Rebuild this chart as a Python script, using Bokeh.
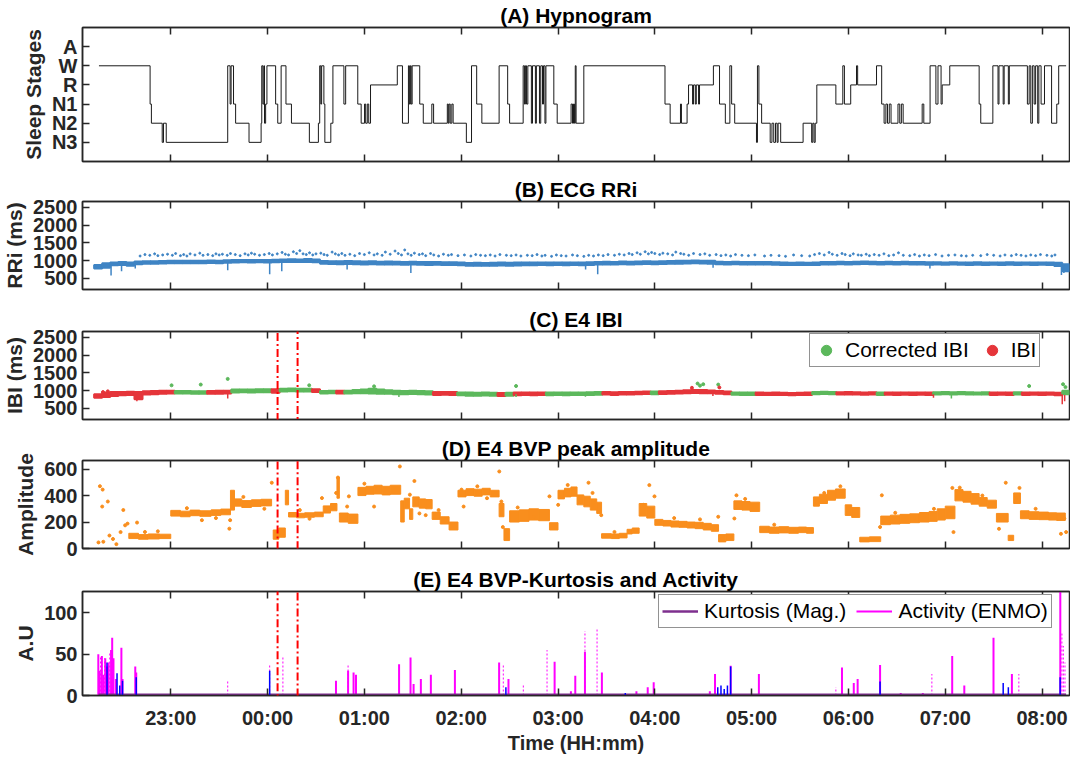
from bokeh.plotting import figure
from bokeh.layouts import column
from bokeh.models import (Range1d, FixedTicker, LinearAxis, PolyAnnotation,
                          Legend, LegendItem)
from bokeh.embed import file_html
from bokeh.resources import INLINE

FONT = "Liberation Sans"
AX = "#262626"
BLUE = "#3F84C4"
GREEN = "#5CB85C"
RED = "#E5353A"
ORANGE = "#F98E1D"
MAGENTA = "#FF00FF"
KBLUE = "#0000FF"
PURPLE = "#7E2F8E"

# ---------------- time axis (minutes after 22:00) ----------------
hour_ticks = [60, 120, 180, 240, 300, 360, 420, 480, 540, 600]
hour_labels = ["23:00", "00:00", "01:00", "02:00", "03:00",
               "04:00", "05:00", "06:00", "07:00", "08:00"]
x_start, x_end = 5.3, 617.0

# ---------------- (A) hypnogram ----------------
stage_names = ["N3", "N2", "N1", "R", "W", "A"]
hyp_t = [15.5, 47.2, 48.0, 54.7, 55.5, 57.2, 95.3, 96.8, 97.4, 98.9, 100.2, 108.5,
         116.0, 116.4, 117.1, 117.7, 118.1, 118.8, 119.6, 125.0, 126.3, 128.4, 131.4,
         134.8, 145.9, 151.5, 152.3, 153.0, 153.5, 154.9, 155.5, 159.2, 160.5, 167.3,
         168.4, 175.9, 178.0, 180.1, 180.8, 181.8, 182.7, 183.8, 200.4, 203.6, 207.3,
         207.9, 208.5, 209.0, 209.6, 214.3, 216.5, 221.8, 222.9, 231.4, 232.0, 232.5,
         233.2, 234.2, 235.0, 243.2, 246.4, 249.6, 252.8, 263.5, 268.8, 270.0, 278.4,
         279.2, 279.8, 280.5, 281.3, 283.5, 284.2, 286.0, 286.6, 288.5, 289.3, 290.4,
         291.0, 291.9, 292.5, 297.4, 299.5, 308.1, 309.0, 309.6, 310.2, 310.7, 311.2,
         316.0, 366.3, 369.5, 375.9, 376.5, 380.0, 380.9, 383.4, 384.0, 385.1, 385.7,
         387.1, 387.7, 396.3, 400.1, 403.7, 406.5, 407.6, 409.5, 423.0, 423.6, 424.5,
         426.2, 431.5, 432.6, 433.7, 434.8, 435.8, 436.4, 438.0, 451.9, 457.2, 457.9,
         458.7, 459.4, 460.4, 472.2, 476.5, 477.5, 481.4, 485.0, 485.7, 497.4, 500.6,
         502.1, 503.2, 504.2, 505.3, 506.4, 510.7, 511.8, 512.8, 513.9, 525.7, 526.7,
         530.6, 534.2, 535.5, 537.4, 538.1, 542.8, 561.0, 562.0, 569.5, 572.7, 573.3,
         575.9, 576.5, 579.1, 579.7, 590.9, 592.0, 593.0, 594.0, 595.1, 596.0, 597.3,
         598.0, 599.4, 601.5, 605.9, 609.1, 610.3, 614.9]
hyp_stage = ["W", "N1", "N2", "N3", "N2", "N3", "W", "N1", "W", "N1", "N2", "N3",
             "N2", "W", "N1", "W", "N2", "N1", "W", "N1", "N2", "W", "N1",
             "N2", "N3", "N2", "W", "N1", "W", "N1", "N3", "N2", "W", "N1",
             "W", "N1", "N2", "N1", "N2", "N1", "N2", "R", "W", "N2", "W",
             "N1", "W", "N1", "W", "N1", "N2", "N1", "N2", "N1", "N2", "N1",
             "N2", "N1", "N2", "N3", "W", "N1", "N2", "W", "N1", "N2", "W",
             "N1", "W", "N1", "W", "N2", "W", "N2", "W", "N2", "W", "N1",
             "W", "N2", "W", "N1", "N2", "N1", "N2", "N1", "N2", "W", "N2",
             "W", "N1", "N2", "N1", "N2", "N1", "R", "N1", "R", "N1", "R",
             "N1", "R", "W", "N1", "N2", "W", "N1", "N2", "N3", "W", "N1",
             "N2", "N3", "N2", "N3", "N2", "N3", "N2", "N3", "N2", "N3", "N2",
             "N3", "N2", "R", "N1", "W", "N1", "R", "W", "R", "W", "N1",
             "N2", "N1", "N2", "N1", "N2", "N1", "N2", "N1", "N2", "N1", "N2",
             "W", "N1", "W", "N1", "R", "W", "N1", "N2", "W", "N1", "W",
             "N1", "W", "N1", "W", "N1", "W", "N2", "W", "N1", "W", "N2",
             "W", "N1", "W", "N2", "N1", "W", "W"]

# ---------------- (B) ECG RRi (5-min bands, ms) ----------------
b_t = list(range(15, 616, 5))
b_lo = [780, 800, 870, 880, 860, 900, 910, 915, 920, 925, 930, 930, 925, 930, 935, 930,
        940, 950, 955, 950, 955, 950, 955, 960, 965, 960, 965, 955, 910, 905, 900, 905,
        900, 895, 900, 890, 895, 890, 885, 890, 885, 880, 885, 880, 875, 870, 860, 860,
        855, 860, 865, 860, 865, 870, 870, 875, 870, 875, 870, 875, 870, 880, 890, 895,
        890, 900, 895, 900, 905, 900, 905, 910, 915, 920, 925, 920, 915, 900, 895, 900,
        895, 890, 895, 890, 885, 880, 875, 880, 875, 880, 890, 895, 900, 895, 900, 905,
        900, 895, 900, 895, 900, 895, 890, 885, 890, 885, 890, 885, 880, 885, 880, 885,
        880, 885, 880, 885, 880, 885, 880, 850, 700]
b_hi = [880, 930, 950, 960, 950, 975, 980, 985, 990, 995, 1000, 995, 1000, 1000, 1005, 1000,
        1010, 1015, 1020, 1015, 1020, 1015, 1025, 1030, 1040, 1035, 1045, 1030, 990, 985, 980, 990,
        985, 975, 980, 970, 975, 970, 965, 970, 960, 960, 965, 955, 955, 950, 935, 940,
        935, 940, 945, 940, 945, 950, 945, 950, 945, 950, 945, 950, 945, 955, 965, 970,
        965, 975, 970, 975, 980, 975, 985, 990, 995, 1000, 1005, 1000, 995, 970, 965, 970,
        965, 960, 965, 960, 955, 945, 940, 945, 940, 945, 960, 965, 970, 965, 970, 975,
        970, 965, 970, 965, 970, 960, 960, 955, 955, 950, 955, 950, 950, 955, 950, 950,
        950, 955, 950, 950, 945, 950, 945, 940, 900]
b_spike_t = [23.0, 29.5, 38.0, 95.3, 121.3, 128.8, 169.3, 208.8, 317.1, 324.6, 396.1, 530.5, 612.0, 613.5]
b_spike_lo = [580, 700, 780, 730, 620, 700, 750, 650, 750, 620, 800, 780, 600, 650]
b_spike_hi = [900, 920, 900, 960, 970, 980, 920, 900, 900, 920, 940, 900, 900, 880]
b_out_t = [41, 44, 47, 50, 52, 55, 58, 61, 63, 66,
           68, 70, 72, 75, 78, 80, 83, 86, 88, 90,
           92, 95, 97, 100, 103, 106, 108, 110, 112, 115,
           118, 121, 123, 126, 129, 131, 133, 136, 138, 140,
           142, 144, 146, 148, 150, 153, 155, 157, 160, 162,
           164, 166, 168, 171, 174, 177, 180, 183, 186, 188,
           191, 193, 196, 199, 201, 203, 205, 207, 209, 211,
           214, 216, 218, 221, 223, 226, 229, 232, 234, 238,
           242, 246, 249, 252, 255, 258, 261, 264, 268, 271,
           274, 277, 281, 284, 287, 290, 292, 296, 299, 302,
           305, 309, 312, 316, 319, 322, 325, 328, 331, 335,
           338, 341, 344, 346, 349, 351, 354, 356, 358, 360,
           363, 365, 368, 371, 373, 376, 378, 381, 384, 388,
           391, 394, 398, 401, 404, 407, 410, 414, 418, 422,
           428, 432, 437, 441, 446, 451, 456, 459, 462, 465,
           468, 470, 473, 476, 478, 481, 483, 486, 488, 491,
           493, 496, 499, 502, 505, 508, 511, 514, 518, 521,
           524, 527, 530, 534, 538, 542, 546, 550, 553, 557,
           562, 566, 570, 574, 577, 581, 584, 587, 590, 593,
           596, 599, 603, 606, 608]
b_out_v = [1130, 1170, 1150, 1190, 1140, 1160, 1180, 1150, 1200, 1140,
           1170, 1130, 1190, 1160, 1210, 1150, 1170, 1140, 1190, 1160,
           1180, 1150, 1200, 1170, 1140, 1190, 1160, 1210, 1180, 1150,
           1170, 1200, 1160, 1190, 1230, 1180, 1160, 1250, 1200, 1280,
           1190, 1170, 1220, 1160, 1190, 1210, 1170, 1150, 1240, 1190,
           1160, 1200, 1150, 1180, 1140, 1200, 1170, 1220, 1160, 1190,
           1150, 1240, 1180, 1270, 1200, 1160, 1300, 1190, 1150, 1210,
           1170, 1190, 1140, 1200, 1160, 1130, 1180, 1150, 1170, 1140,
           1160, 1130, 1170, 1150, 1140, 1160, 1130, 1170, 1150, 1140,
           1160, 1130, 1150, 1140, 1170, 1130, 1150, 1120, 1160, 1140,
           1130, 1160, 1140, 1120, 1150, 1130, 1160, 1140, 1170, 1150,
           1180, 1160, 1200, 1170, 1220, 1180, 1250, 1190, 1230, 1200,
           1170, 1210, 1190, 1160, 1240, 1200, 1180, 1150, 1200, 1170,
           1190, 1150, 1170, 1140, 1160, 1130, 1170, 1150, 1140, 1160,
           1130, 1150, 1140, 1120, 1160, 1140, 1130, 1170, 1200, 1160,
           1230, 1180, 1150, 1200, 1170, 1140, 1190, 1160, 1150, 1180,
           1140, 1170, 1150, 1190, 1140, 1160, 1220, 1150, 1140, 1170,
           1130, 1160, 1140, 1170, 1130, 1150, 1160, 1140, 1130, 1150,
           1140, 1170, 1150, 1130, 1160, 1140, 1170, 1150, 1130, 1160,
           1140, 1170, 1150, 1130, 1160]

# ---------------- (C) E4 IBI (5-min bands, ms) ----------------
c_t = list(range(15, 616, 5))
c_lo = [800, 820, 850, 870, 880, 760, 890, 900, 910, 920, 920, 920, 915, 910, 910, 915,
        920, 950, 955, 950, 955, 955, 940, 975, 980, 975, 975, 960, 920, 930, 920, 920,
        930, 925, 920, 915, 910, 900, 900, 905, 900, 895, 880, 885, 880, 870, 860, 860,
        865, 860, 850, 860, 870, 875, 870, 880, 870, 875, 870, 880, 875, 880, 885, 890,
        880, 895, 890, 900, 905, 900, 905, 910, 920, 930, 935, 930, 925, 910, 900, 885,
        880, 880, 880, 875, 880, 875, 870, 875, 880, 900, 905, 900, 890, 895, 890, 885,
        890, 880, 885, 880, 885, 880, 885, 880, 895, 900, 895, 900, 895, 890, 895, 880,
        885, 880, 890, 880, 885, 880, 885, 870, 900]
c_hi = [900, 950, 960, 960, 970, 960, 980, 990, 995, 1000, 990, 990, 985, 985, 990, 995,
        1000, 1030, 1035, 1030, 1040, 1040, 1040, 1050, 1060, 1055, 1050, 1040, 990, 995, 1000, 1000,
        1020, 1030, 1050, 1030, 1010, 1000, 990, 995, 990, 985, 960, 965, 960, 950, 945, 940,
        945, 940, 935, 940, 945, 950, 945, 950, 945, 950, 945, 950, 945, 955, 960, 960,
        955, 965, 960, 970, 975, 975, 980, 990, 1000, 1010, 1020, 1015, 1005, 990, 975, 950,
        945, 950, 945, 940, 945, 940, 935, 940, 945, 965, 970, 965, 955, 960, 955, 950,
        955, 945, 950, 945, 950, 945, 950, 945, 955, 960, 955, 960, 955, 950, 955, 945,
        950, 945, 955, 945, 950, 945, 950, 940, 1000]
c_src = ["IBI"] * 10 + ["Corrected"] * 4 + ["IBI"] * 3 + ["Corrected"] * 5 + ["IBI"] \
    + ["Corrected"] * 4 + ["IBI"] + ["Corrected"] * 2 + ["IBI"] + ["Corrected"] * 11 \
    + ["IBI"] * 3 + ["Corrected"] * 5 + ["IBI"] + ["Corrected"] + ["IBI"] * 4 \
    + ["Corrected"] * 7 + ["IBI"] * 6 + ["Corrected"] + ["IBI"] * 9 + ["Corrected"] * 3 \
    + ["IBI"] * 7 + ["Corrected"] * 3 + ["IBI"] * 5 + ["Corrected"] + ["IBI"] * 6 \
    + ["Corrected"] * 7 + ["IBI"] * 3 + ["Corrected"] + ["IBI"] * 5 + ["Corrected"]
c_spike_t = [39.0, 95.3, 201.4, 274.0, 317.0, 396.0, 532.7, 543.8, 612.5, 614.0]
c_spike_lo = [700, 780, 820, 820, 830, 850, 800, 780, 620, 700]
c_spike_hi = [900, 920, 920, 900, 900, 950, 900, 900, 900, 880]
c_spike_src = ["IBI", "IBI", "Corrected", "Corrected", "Corrected", "IBI", "IBI", "Corrected", "IBI", "IBI"]
cg_out_t = [60.5, 78.6, 95.3, 145.8, 186.0, 274.0, 386.5, 388.0, 390.0, 399.3, 592.0, 613.0, 614.5]
cg_out_v = [1150, 1170, 1330, 1150, 1120, 1130, 1200, 1140, 1180, 1170, 1130, 1180, 1100]
cr_out_t = [18.0, 21.0, 383.0, 400.0]
cr_out_v = [960, 980, 1080, 1090]

# ---------------- (D) E4 BVP peak amplitude: band segments ----------------
nan = float("nan")
d_edges = [34, 40, 46, 53, 60, 66, 72, 78, 85, 91, 97, 99.5, 104, 110, 116, 122.5, 123.5,
           127, 131, 133, 138, 143, 149, 154.5, 159, 163, 164.5, 170, 176, 181, 186, 191,
           196, 202.5, 204.7, 208, 210, 214, 218, 222, 227, 232.5, 238, 243, 248, 253, 258,
           263.5, 266.5, 270, 276, 282, 288, 294.7, 300, 304, 308, 311.8, 316, 320, 324, 327,
           333, 338, 342.8, 346, 350.3, 355, 360, 365, 370, 375, 380, 385, 390, 395, 399.5,
           404, 409, 414, 419, 425, 431, 437, 443, 449, 454, 458.3, 462, 467, 472, 478, 482,
           487, 493, 500, 506, 512, 518, 524, 530, 535, 540, 546, 551, 556, 561, 566, 571.7,
           579, 582.4, 586.6, 592, 598, 604, 609, 614.4]
d_lo = [75, 70, 72, 75, 245, 240, 248, 243, 250, 255, 290, 320, 310, 318, 322, nan, 70,
        85, 330, 238, 232, 236, 240, 268, 285, 380, 200, 190, 400, 410, 412, 405,
        410, 200, 300, 220, 315, 305, 300, 220, 185, 140, 390, 400, 395, 405, 390,
        240, 60, 200, 205, 215, 210, 140, 375, 390, 395, 330, 315, 290, 265,
        78, 75, 80, 110, 115, 245, 230, 175, 170, 162, 160, 155, 150, 140, 130,
        50, 60, 295, 290, 280, 120, 115, 118, 115, 120, 115, 320, 340, 365, 380,
        250, 235, 50, 52, 180, 185, 190, 195, 200, 205, 215, 225, 360, 350, 335, 320,
        305, 200, 60, 340, 225, 220, 218, 215, 212]
d_hi = [115, 105, 110, 108, 288, 282, 290, 285, 292, 298, 440, 375, 362, 368, 372, nan, 140,
        155, 440, 272, 266, 270, 275, 322, 340, 540, 268, 260, 462, 470, 478, 470,
        478, 360, 380, 300, 390, 375, 370, 275, 240, 200, 440, 452, 448, 455, 440,
        340, 150, 285, 292, 300, 295, 195, 440, 455, 465, 405, 395, 375, 350,
        112, 110, 115, 145, 155, 340, 320, 220, 212, 208, 205, 200, 198, 190, 180,
        105, 110, 360, 355, 350, 168, 162, 165, 160, 162, 158, 390, 410, 440, 450,
        330, 310, 85, 88, 245, 252, 258, 262, 272, 280, 300, 320, 445, 432, 415, 385,
        365, 265, 100, 420, 285, 278, 275, 270, 268]
d_out_t = [16.1, 17.8, 21.0, 17.5, 30.6, 15.2, 18.2, 22.0, 24.2, 26.3, 28.9, 31.7, 33.2, 39.1,
           79.3, 96.3, 96.8, 122.6, 153.7, 163.6, 162.5, 170.4, 169.3, 186.0, 202.0, 208.2,
           211.0, 214.1, 218.0, 240.2, 241.5, 263.6, 264.9, 265.8, 294.7, 300.1, 318.9, 321.4,
           326.8, 356.6, 359.8, 353.0, 399.3, 410.6, 409.3, 500.7, 499.6, 544.4, 545.1, 577.5,
           583.9, 586.0, 573.3, 611.7, 614.9, 613.8, 44.0, 52.0, 70.0, 88.0, 105.0, 118.0,
           140.0, 146.0, 180.0, 192.0, 226.0, 250.0, 256.0, 275.0, 285.0, 306.0, 335.0, 372.0,
           388.0, 416.0, 434.0, 447.0, 465.0, 475.0, 509.0, 521.0, 533.0, 549.0, 563.0, 596.0,
           605.0]
d_out_v = [471, 445, 355, 317, 291, 46, 51, 98, 72, 33, 124, 175, 188, 196,
           214, 150, 214, 497, 381, 536, 420, 394, 317, 317, 620, 407,
           510, 265, 252, 445, 317, 582, 355, 162, 394, 330, 497, 420,
           252, 479, 394, 330, 240, 402, 227, 402, 162, 458, 124, 497,
           381, 458, 149, 111, 124, 227, 125, 130, 305, 230, 390, 300,
           290, 225, 490, 440, 290, 470, 380, 310, 240, 480, 125, 230,
           220, 375, 180, 140, 420, 470, 270, 230, 300, 460, 400, 300,
           245]

# ---------------- (E) kurtosis and activity ----------------
act_t = [15.1, 16.0, 17.3, 18.1, 19.4, 20.5, 21.5, 23.0, 23.7, 24.5, 26.0, 29.4, 30.1, 38.0,
         38.6, 162.4, 169.9, 173.3, 174.8, 201.5, 208.6, 210.5, 215.0, 221.2, 236.1, 263.5,
         269.3, 297.9, 308.0, 310.7, 316.7, 327.2, 348.6, 355.6, 359.3, 394.1, 397.3, 407.0,
         424.5, 476.0, 483.3, 485.7, 499.6, 512.4, 526.1, 544.3, 551.8, 569.9, 581.3, 611.3]
act_v = [50, 30, 48, 25, 45, 35, 40, 55, 70, 45, 20, 58, 20, 35,
         28, 18, 30, 28, 25, 38, 46, 14, 20, 25, 31, 40,
         20, 41, 5, 24, 53, 28, 5, 10, 16, 5, 26, 36,
         26, 34, 15, 20, 37, 3, 3, 48, 12, 70, 26, 126]
act_dot_t = [16.5, 19.0, 22.2, 95.3, 121.3, 129.5, 169.9, 266.1, 278.5, 293.2, 316.7, 324.2,
             472.2, 531.7, 585.6, 612.3, 613.2, 614.2]
act_dot_v = [48, 45, 52, 18, 38, 48, 37, 37, 14, 55, 78, 81, 10, 26, 26, 75, 60, 40]
kurt_t = [20.5, 26.7, 28.4, 30.1, 38.6, 121.3, 267.7, 341.7, 399.0, 401.0, 403.0, 405.0,
          407.0, 499.6, 575.9, 579.1, 611.2]
kurt_v = [40, 27, 12, 18, 22, 30, 10, 3, 10, 12, 8, 12, 35, 17, 15, 10, 22]
kurt_base_t = [15.2, 614.9]
kurt_base_v = [0.8, 0.8]

# region of interest (minutes) for the dashed box
roi_t = [126.2, 138.6]


def style_axis(ax, size="20px"):
    ax.axis_line_color = AX
    ax.axis_line_width = 1.5
    ax.major_tick_in = 7
    ax.major_tick_out = 0
    ax.minor_tick_in = 0
    ax.minor_tick_out = 0
    ax.major_tick_line_color = AX
    ax.major_tick_line_width = 1.5
    ax.major_label_text_font = FONT
    ax.major_label_text_font_style = "bold"
    ax.major_label_text_font_size = size
    ax.major_label_text_color = AX
    ax.axis_label_text_font = FONT
    ax.axis_label_text_font_style = "bold"
    ax.axis_label_text_font_size = "21px"
    ax.axis_label_text_color = AX
    ax.axis_label_standoff = 4


def panel(title, frame_h, top, bottom, y0, y1, yticks, ylabel, ylabels=None, xlabels=False):
    p = figure(frame_width=987, frame_height=frame_h,
               min_border_left=82, min_border_right=1,
               min_border_top=top, min_border_bottom=bottom,
               x_range=Range1d(x_start, x_end), y_range=Range1d(y0, y1),
               x_axis_type=None, y_axis_type=None,
               output_backend="svg", toolbar_location=None, title=title)
    p.outline_line_color = AX
    p.outline_line_width = 1.5
    p.title.text_font = FONT
    p.title.text_font_size = "21px"
    p.title.text_font_style = "bold"
    p.title.text_color = "black"
    p.title.align = "center"
    p.title.standoff = 2
    xt = FixedTicker(ticks=hour_ticks, minor_ticks=[])
    for loc in ("below", "above"):
        ax = LinearAxis(ticker=xt, major_label_overrides=dict(zip(hour_ticks, hour_labels)))
        style_axis(ax, "20px")
        if loc == "above" or not xlabels:
            ax.major_label_text_color = None
            ax.major_label_standoff = 0
        else:
            ax.major_label_standoff = 11
            ax.axis_label = "Time (HH:mm)"
            ax.axis_label_standoff = 0
            ax.axis_label_text_font_size = "20px"
        p.add_layout(ax, loc)
    ya = LinearAxis(ticker=FixedTicker(ticks=yticks, minor_ticks=[]), axis_label=ylabel)
    if ylabels:
        ya.major_label_overrides = dict(zip(yticks, ylabels))
    style_axis(ya)
    p.add_layout(ya, "left")
    return p


def style_legend(lg, glyph_w):
    lg.label_text_font = FONT
    lg.label_text_font_size = "21px"
    lg.label_text_color = "black"
    lg.border_line_color = AX
    lg.border_line_width = 1.5
    lg.background_fill_alpha = 1
    lg.padding = 3
    lg.spacing = 10
    lg.margin = 0
    lg.label_standoff = 6
    lg.glyph_width = glyph_w
    lg.glyph_height = 26
    lg.label_height = 22


# (A)
pA = panel("(A) Hypnogram", 134, 25, 13, -1, 6, [0, 1, 2, 3, 4, 5], "Sleep Stages",
           ylabels=stage_names)
hyp_y = [stage_names.index(s) for s in hyp_stage]
pA.step(hyp_t, hyp_y, mode="after", line_color="#1a1a1a", line_width=1)

# (B)
pB = panel("(B) ECG RRi", 88, 27, 15, 190, 2660, [500, 1000, 1500, 2000, 2500], "RRi (ms)")
pB.vbar(x=b_t, width=5.0, bottom=b_lo, top=b_hi, fill_color=BLUE, line_color=BLUE, line_width=2)
pB.segment(x0=b_spike_t, y0=b_spike_lo, x1=b_spike_t, y1=b_spike_hi, line_color=BLUE, line_width=1.5)
pB.scatter(b_out_t, b_out_v, size=2, color=BLUE)

# (C)
pC = panel("(C) E4 IBI", 88, 27, 14, 190, 2660, [500, 1000, 1500, 2000, 2500], "IBI (ms)")
src_color = {"IBI": RED, "Corrected": GREEN}
c_col = [src_color[s] for s in c_src]
pC.vbar(x=c_t, width=5.0, bottom=c_lo, top=c_hi, fill_color=c_col, line_color=c_col, line_width=2)
pC.segment(x0=c_spike_t, y0=c_spike_lo, x1=c_spike_t, y1=c_spike_hi,
           line_color=[src_color[s] for s in c_spike_src], line_width=1.5)
r_g = pC.scatter(cg_out_t, cg_out_v, size=3, color=GREEN)
r_r = pC.scatter(cr_out_t, cr_out_v, size=3, color=RED)
legC = Legend(items=[LegendItem(label="Corrected IBI", renderers=[r_g]),
                     LegendItem(label="IBI", renderers=[r_r])],
              location=(727, 52), orientation="horizontal")
style_legend(legC, 26)

# (D)
pD = panel("(D) E4 BVP peak amplitude", 88, 27, 15, 0, 665, [0, 200, 400, 600], "Amplitude")
nseg = min(len(d_edges) - 1, len(d_lo), len(d_hi))
pD.quad(left=d_edges[:nseg], right=d_edges[1:nseg + 1], bottom=d_lo[:nseg], top=d_hi[:nseg],
        fill_color=ORANGE, line_color=ORANGE, line_width=1)
pD.scatter(d_out_t, d_out_v, size=3, color=ORANGE)

# (E)
pE = panel("(E) E4 BVP-Kurtosis and Activity", 104, 28, 56, 0, 126, [0, 50, 100], "A.U",
           xlabels=True)
r_act = pE.segment(x0=act_t, y0=[0] * len(act_t), x1=act_t, y1=act_v, line_color=MAGENTA,
                   line_width=2)
pE.segment(x0=act_dot_t, y0=[0] * len(act_dot_t), x1=act_dot_t, y1=act_dot_v,
           line_color=MAGENTA, line_width=1, line_dash="2 2")
r_kb = pE.line(kurt_base_t, kurt_base_v, line_color=PURPLE, line_width=2.5)
pE.segment(x0=kurt_t, y0=[0] * len(kurt_t), x1=kurt_t, y1=kurt_v, line_color=KBLUE, line_width=1.5)
legE = Legend(items=[LegendItem(label="Kurtosis (Mag.)", renderers=[r_kb]),
                     LegendItem(label="Activity (ENMO)", renderers=[r_act])],
              location=(576, 67), orientation="horizontal")
style_legend(legE, 36)

pC.add_layout(legC)
pE.add_layout(legE)

# dashed region of interest spanning panels C-E
box_style = dict(fill_alpha=0, line_alpha=1, line_color="#FF0000", line_width=2,
                 line_dash="8 3 2 3")
x0, x1 = roi_t
for p in (pC, pD, pE):
    p.add_layout(PolyAnnotation(xs=[x0, x0, x1, x1], ys=[-1e5, 1e5, 1e5, -1e5], **box_style))

layout = column(pA, pB, pC, pD, pE, spacing=0)
open("out.html", "w").write(file_html(layout, INLINE))
